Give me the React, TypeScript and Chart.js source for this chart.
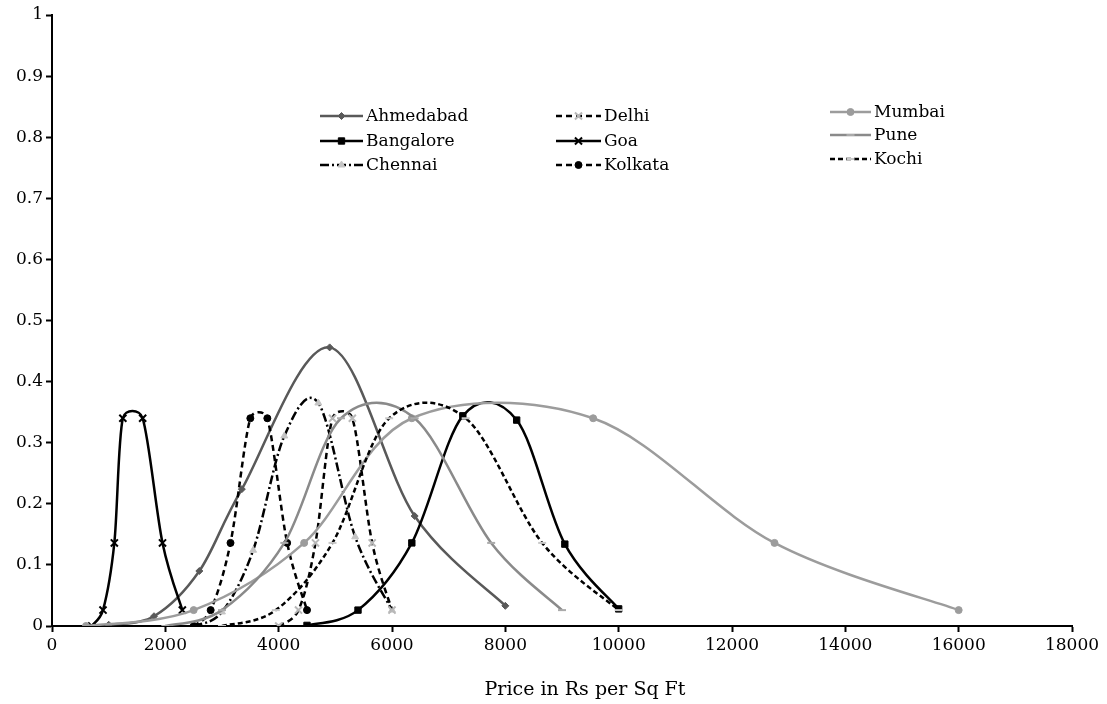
import React, { useEffect, useRef } from 'react';
import { Chart, registerables } from 'chart.js';
import { drawPoint } from 'chart.js/helpers';

Chart.register(...registerables);

// ---- Data ----
const seriesNames = ['Ahmedabad', 'Bangalore', 'Chennai', 'Delhi', 'Goa', 'Kolkata', 'Mumbai', 'Pune', 'Kochi'];

const ahmedabadX = [1000, 1800, 2600, 3350, 4900, 6400, 8000];
const ahmedabadY = [0.002, 0.016, 0.09, 0.224, 0.456, 0.18, 0.033];

const bangaloreX = [4500, 5400, 6350, 7250, 8200, 9050, 10000];
const bangaloreY = [0.001, 0.026, 0.136, 0.344, 0.337, 0.134, 0.028];

const chennaiX = [2500, 3000, 3550, 4100, 4700, 5350, 6000];
const chennaiY = [0.0, 0.023, 0.124, 0.311, 0.365, 0.146, 0.026];

const delhiX = [4000, 4350, 4650, 4950, 5300, 5650, 6000];
const delhiY = [0.0, 0.026, 0.136, 0.34, 0.34, 0.136, 0.026];

const goaX = [700, 900, 1100, 1250, 1600, 1950, 2300];
const goaY = [0.0, 0.026, 0.136, 0.34, 0.34, 0.136, 0.026];

const kolkataX = [2500, 2800, 3150, 3500, 3800, 4150, 4500];
const kolkataY = [0.0, 0.026, 0.136, 0.34, 0.34, 0.136, 0.026];

const mumbaiX = [600, 2500, 4450, 6350, 9550, 12750, 16000];
const mumbaiY = [0.0, 0.026, 0.136, 0.34, 0.34, 0.136, 0.026];

const puneX = [2000, 3000, 4100, 5100, 6400, 7750, 9000];
const puneY = [0.0, 0.026, 0.136, 0.34, 0.34, 0.136, 0.026];

const kochiX = [3000, 3950, 4950, 5950, 7300, 8650, 10000];
const kochiY = [0.0, 0.026, 0.136, 0.34, 0.34, 0.136, 0.026];

const xTicks = [0, 2000, 4000, 6000, 8000, 10000, 12000, 14000, 16000, 18000];
const yTicks = [0, 0.1, 0.2, 0.3, 0.4, 0.5, 0.6, 0.7, 0.8, 0.9, 1];
const xAxisTitle = 'Price in Rs per Sq Ft';

// ---- Styles ----
const FONT = '"DejaVu Serif", "Liberation Serif", serif';
const TITLE_POS = { x: 585, y: 690, size: 19 };

const styles = [
  { line: '#595959', dash: [], style: 'rectRot', r: 3.5, fill: '#595959', stroke: '#595959', bw: 1 },
  { line: '#000000', dash: [], style: 'rect', r: 4.5, fill: '#000000', stroke: '#000000', bw: 1 },
  { line: '#000000', dash: [9, 3, 2, 3], style: 'triangle', r: 4, fill: '#c4c4c4', stroke: '#c4c4c4', bw: 1 },
  { line: '#000000', dash: [6, 4], style: 'crossRot', r: 5, fill: '#b8b8b8', stroke: '#b8b8b8', bw: 2 },
  { line: '#000000', dash: [], style: 'crossRot', r: 5, fill: '#000000', stroke: '#000000', bw: 2 },
  { line: '#000000', dash: [6, 4], style: 'circle', r: 3.5, fill: '#000000', stroke: '#000000', bw: 1 },
  { line: '#9c9c9c', dash: [], style: 'circle', r: 3.5, fill: '#9c9c9c', stroke: '#9c9c9c', bw: 1 },
  { line: '#8a8a8a', dash: [], style: 'line', r: 4, fill: '#aaaaaa', stroke: '#aaaaaa', bw: 2 },
  { line: '#000000', dash: [5, 3], style: 'line', r: 4, fill: '#c8c8c8', stroke: '#c8c8c8', bw: 2 },
];

const legendPos = [
  { x: 320, y: 116, w: 43 },
  { x: 320, y: 141, w: 43 },
  { x: 320, y: 165, w: 43 },
  { x: 556, y: 116, w: 45 },
  { x: 556, y: 141, w: 45 },
  { x: 556, y: 165, w: 45 },
  { x: 830, y: 112, w: 41 },
  { x: 830, y: 135, w: 41 },
  { x: 830, y: 159, w: 41 },
];

const seriesX = [ahmedabadX, bangaloreX, chennaiX, delhiX, goaX, kolkataX, mumbaiX, puneX, kochiX];
const seriesY = [ahmedabadY, bangaloreY, chennaiY, delhiY, goaY, kolkataY, mumbaiY, puneY, kochiY];

// Excel-like smoothing: tangent parallel to neighbour chord, length 1/6 of it,
// capped at half of the adjacent segment.
const excelSmoothing = {
  id: 'excelSmoothing',
  beforeDatasetDraw(chart: any, args: any) {
    const line = args.meta.dataset;
    if (!line) return;
    const pts = line.points;
    const n = pts.length;
    const dist = (a: any, b: any) => Math.hypot(b.x - a.x, b.y - a.y);
    for (let i = 0; i < n; i++) {
      const p = pts[i];
      const prev = pts[Math.max(0, i - 1)];
      const next = pts[Math.min(n - 1, i + 1)];
      const tx = next.x - prev.x;
      const ty = next.y - prev.y;
      const L = Math.hypot(tx, ty);
      if (L === 0) {
        p.cp1x = p.x; p.cp1y = p.y; p.cp2x = p.x; p.cp2y = p.y;
        continue;
      }
      const dIn = i > 0 ? dist(pts[i - 1], p) : 0;
      const dOut = i < n - 1 ? dist(p, pts[i + 1]) : 0;
      const fIn = Math.min(1 / 6, dIn / (2 * L));
      const fOut = Math.min(1 / 6, dOut / (2 * L));
      p.cp1x = p.x - tx * fIn;
      p.cp1y = p.y - ty * fIn;
      p.cp2x = p.x + tx * fOut;
      p.cp2y = p.y + ty * fOut;
    }
    line._path = undefined;
  },
};

const customLegend = {
  id: 'customLegend',
  afterDraw(chart: any) {
    const ctx = chart.ctx;
    chart.data.datasets.forEach((ds: any, i: number) => {
      const p = legendPos[i];
      const s = styles[i];
      ctx.save();
      ctx.strokeStyle = s.line;
      ctx.lineWidth = 2.5;
      ctx.setLineDash(s.dash);
      ctx.beginPath();
      ctx.moveTo(p.x, p.y);
      ctx.lineTo(p.x + p.w, p.y);
      ctx.stroke();
      ctx.setLineDash([]);
      ctx.fillStyle = s.fill;
      ctx.strokeStyle = s.stroke;
      ctx.lineWidth = s.bw;
      drawPoint(ctx, { pointStyle: s.style, rotation: 0, radius: s.r, borderWidth: s.bw } as any, p.x + p.w / 2, p.y);
      ctx.fillStyle = '#000';
      ctx.font = `17px ${FONT}`;
      ctx.textBaseline = 'middle';
      ctx.textAlign = 'left';
      ctx.fillText(ds.label, p.x + p.w + 3, p.y + 1);
      ctx.restore();
    });
    // x-axis title
    ctx.save();
    ctx.fillStyle = '#000';
    ctx.font = `${TITLE_POS.size}px ${FONT}`;
    ctx.textBaseline = 'middle';
    ctx.textAlign = 'center';
    ctx.fillText(xAxisTitle, TITLE_POS.x, TITLE_POS.y);
    ctx.restore();
  },
};

export default function App() {
  const canvasRef = useRef<HTMLCanvasElement | null>(null);

  useEffect(() => {
    document.body.style.margin = '0';
    const canvas = canvasRef.current;
    if (!canvas) return;

    const datasets = seriesNames.map((name, i) => ({
      label: name,
      data: seriesX[i].map((x, j) => ({ x, y: seriesY[i][j] })),
      borderColor: styles[i].line,
      borderWidth: 2.5,
      borderDash: styles[i].dash,
      pointStyle: styles[i].style,
      pointRadius: styles[i].r,
      pointBackgroundColor: styles[i].fill,
      pointBorderColor: styles[i].stroke,
      pointBorderWidth: styles[i].bw,
      tension: 0.4,
      fill: false,
      order: seriesNames.length - i,
    }));

    const chart = new Chart(canvas, {
      type: 'line',
      data: { datasets },
      options: {
        animation: false,
        responsive: true,
        maintainAspectRatio: false,
        layout: { padding: { top: 15, right: 35, left: 0, bottom: 0 } },
        plugins: {
          legend: { display: false },
          tooltip: { enabled: false },
        },
        scales: {
          x: {
            type: 'linear',
            min: 0,
            max: 18000,
            afterBuildTicks: (axis: any) => {
              axis.ticks = xTicks.map((v) => ({ value: v }));
            },
            afterFit: (axis: any) => {
              axis.height = 78;
            },
            grid: {
              drawOnChartArea: false,
              drawTicks: true,
              tickLength: 6,
              tickWidth: 2,
              tickColor: '#000',
            },
            border: { display: true, color: '#000', width: 2 },
            ticks: {
              color: '#000',
              font: { family: FONT, size: 17 },
              maxRotation: 0,
              autoSkip: false,
              padding: 3,
              callback: (v: any) => String(v),
            },
            title: { display: false },
          },
          y: {
            type: 'linear',
            min: 0,
            max: 1,
            afterBuildTicks: (axis: any) => {
              axis.ticks = yTicks.map((v) => ({ value: v }));
            },
            afterFit: (axis: any) => {
              axis.width = 52;
            },
            grid: {
              drawOnChartArea: false,
              drawTicks: true,
              tickLength: 6,
              tickWidth: 2,
              tickColor: '#000',
            },
            border: { display: true, color: '#000', width: 2 },
            ticks: {
              color: '#000',
              font: { family: FONT, size: 17 },
              autoSkip: false,
              padding: 3,
              callback: (v: any) => String(Math.round(v * 10) / 10),
            },
          },
        },
      },
      plugins: [excelSmoothing, customLegend],
    });

    return () => chart.destroy();
  }, []);

  return (
    <div style={{ position: 'relative', width: '1107px', height: '704px', background: '#fff' }}>
      <canvas ref={canvasRef} />
    </div>
  );
}
